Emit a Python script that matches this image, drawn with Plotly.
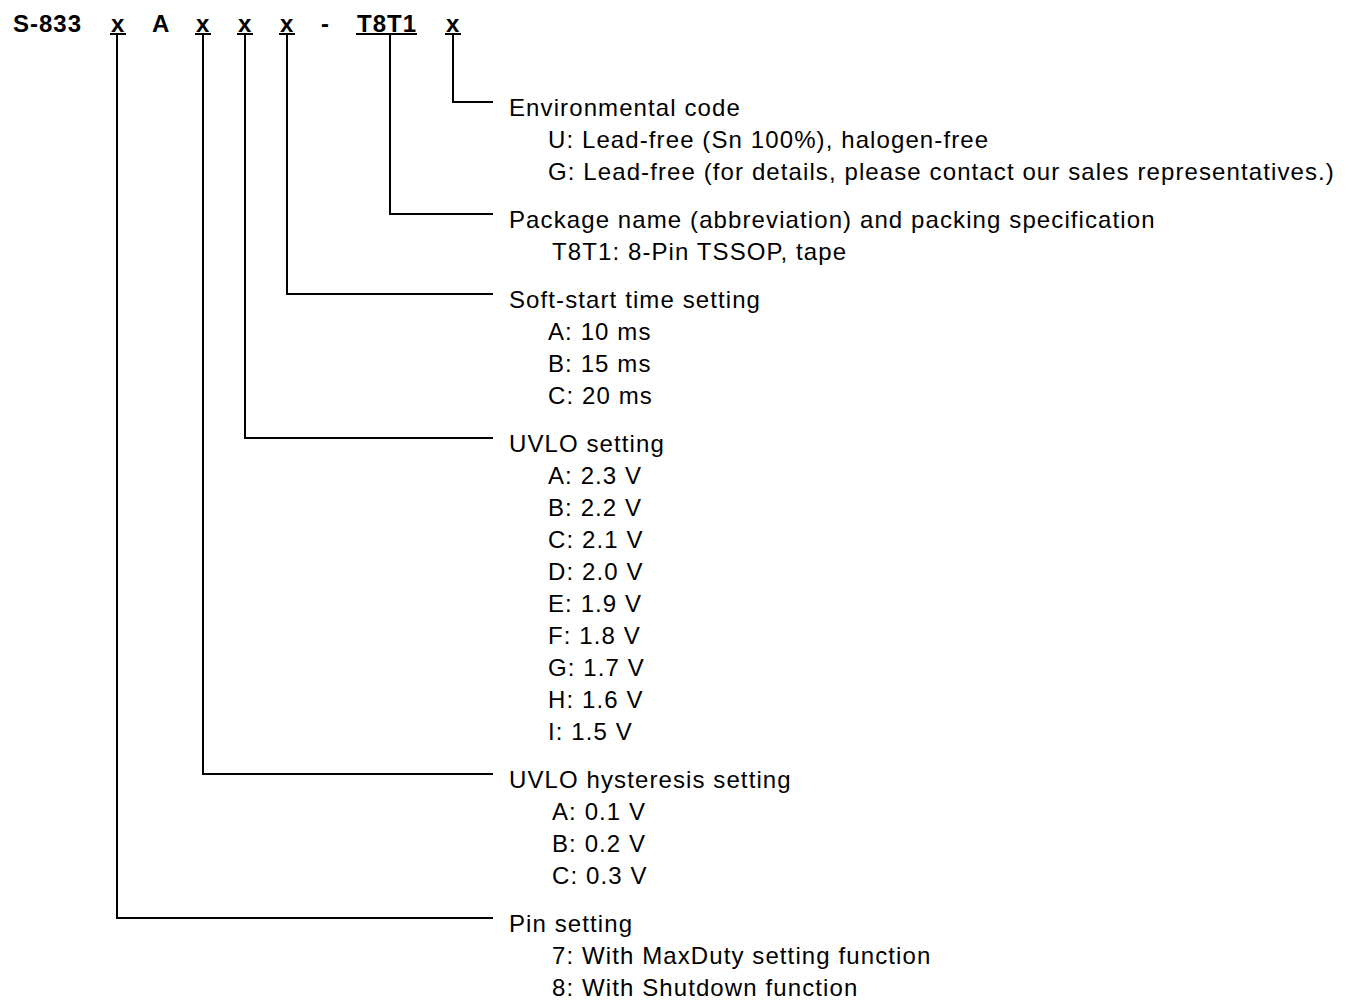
import plotly.graph_objects as go

W, H = 1357, 1001
PAGE_OFFSET = 8  # browser default body margin

# ---------------- data ----------------
code_tokens = ["S-833", "x", "A", "x", "x", "x", "-", "T8T1", "x"]
code_underlined = [False, True, False, True, True, True, False, True, True]

section_titles = [
    "Environmental code",
    "Package name (abbreviation) and packing specification",
    "Soft-start time setting",
    "UVLO setting",
    "UVLO hysteresis setting",
    "Pin setting",
]
section_items = [
    ["U: Lead-free (Sn 100%), halogen-free",
     "G: Lead-free (for details, please contact our sales representatives.)"],
    ["T8T1: 8-Pin TSSOP, tape"],
    ["A: 10 ms", "B: 15 ms", "C: 20 ms"],
    ["A: 2.3 V", "B: 2.2 V", "C: 2.1 V", "D: 2.0 V", "E: 1.9 V",
     "F: 1.8 V", "G: 1.7 V", "H: 1.6 V", "I: 1.5 V"],
    ["A: 0.1 V", "B: 0.2 V", "C: 0.3 V"],
    ["7: With MaxDuty setting function", "8: With Shutdown function"],
]
# which code token each section explains
section_token = [8, 7, 5, 4, 3, 1]

# ---------------- layout constants ----------------
TOKEN_CX = [11, 118, 160, 203, 245, 287, 325, 386.5, 453]
TOKEN_HALF_W = [0, 8, 0, 8, 8, 8, 0, 30.5, 8]
TOKEN_LEADER_X = [None, 117, None, 203, 245, 287, None, 390, 453]
HEADER_Y = 23
UNDERLINE_Y = 34
FIRST_ROW_Y = 107
ROW_STEP = 32
SECTION_GAP = 16
LINE_END_X = 493
TITLE_X = 507
ITEM_X = [546, 550, 546, 546, 550, 550]
LINE_OFFSET = -5

BODY_FONT = "Liberation Sans, Arial, sans-serif"
BODY_SIZE = 24
BODY_SPACING = 1.1
HEAD_SIZE = 24
HEAD_SPACING = 1.0


def spaced(text, px):
    return f'<span style="letter-spacing:{px}px">{text}</span>'


annotations = []
lx, ly = [], []

# header code tokens
for i, tok in enumerate(code_tokens):
    multi = len(tok) > 1
    annotations.append(dict(
        x=TOKEN_CX[i], y=HEADER_Y, xref="x", yref="y",
        text="<b>" + (spaced(tok, HEAD_SPACING) if multi else tok) + "</b>",
        showarrow=False,
        xanchor="left" if i == 0 else "center", yanchor="middle",
        font=dict(family=BODY_FONT, size=HEAD_SIZE, color="black"),
    ))
    if code_underlined[i]:
        lx += [TOKEN_CX[i] - TOKEN_HALF_W[i], TOKEN_CX[i] + TOKEN_HALF_W[i], None]
        ly += [UNDERLINE_Y, UNDERLINE_Y, None]

# sections
y = FIRST_ROW_Y
for s, title in enumerate(section_titles):
    annotations.append(dict(
        x=TITLE_X, y=y, xref="x", yref="y",
        text=spaced(title, BODY_SPACING), showarrow=False,
        xanchor="left", yanchor="middle",
        font=dict(family=BODY_FONT, size=BODY_SIZE, color="black"),
    ))
    tx = TOKEN_LEADER_X[section_token[s]]
    line_y = y + LINE_OFFSET
    lx += [tx, tx, LINE_END_X, None]
    ly += [UNDERLINE_Y, line_y, line_y, None]
    yy = y
    for item in section_items[s]:
        yy += ROW_STEP
        annotations.append(dict(
            x=ITEM_X[s], y=yy, xref="x", yref="y",
            text=spaced(item, BODY_SPACING), showarrow=False,
            xanchor="left", yanchor="middle",
            font=dict(family=BODY_FONT, size=BODY_SIZE, color="black"),
        ))
    y = yy + ROW_STEP + SECTION_GAP

fig = go.Figure()
fig.add_trace(go.Scatter(
    x=lx, y=ly, mode="lines",
    line=dict(color="black", width=2),
    hoverinfo="skip", showlegend=False,
))

fig.update_layout(
    width=W, height=H,
    margin=dict(l=0, r=0, t=0, b=0),
    paper_bgcolor="white", plot_bgcolor="white",
    xaxis=dict(range=[PAGE_OFFSET, W + PAGE_OFFSET], visible=False, fixedrange=True),
    yaxis=dict(range=[H + PAGE_OFFSET, PAGE_OFFSET], visible=False, fixedrange=True),
    annotations=annotations,
    showlegend=False,
)

fig.write_html("out.html", config={"displayModeBar": False})
